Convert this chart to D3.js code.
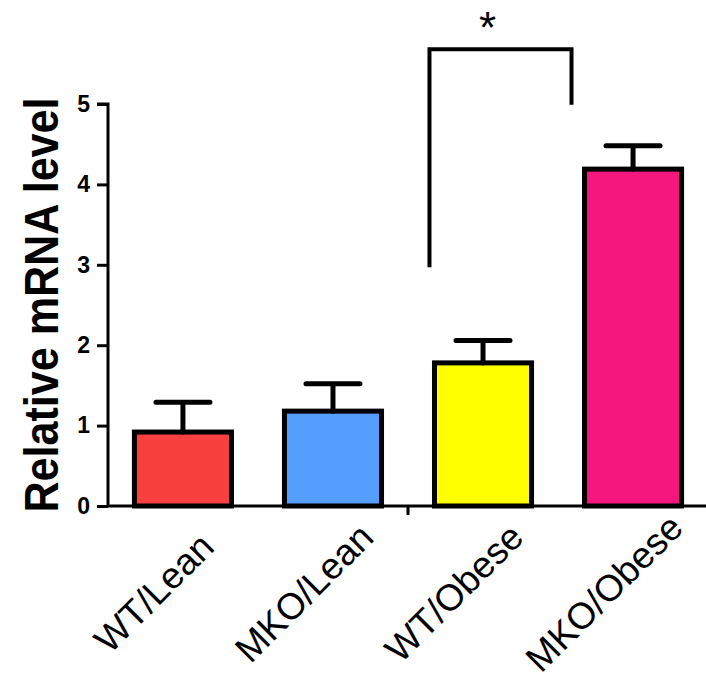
<!DOCTYPE html>
<html>
<head>
<meta charset="utf-8">
<script src="https://cdn.jsdelivr.net/npm/d3@7"></script>
<style>
  body { margin: 0; background: #fff; }
  svg { display: block; font-family: "Liberation Sans", Arial, sans-serif; }
</style>
</head>
<body>
<svg id="chart"></svg>
<script>
const groups = ["WT/Lean", "MKO/Lean", "WT/Obese", "MKO/Obese"];
const means = [0.92, 1.18, 1.78, 4.19];
const sems = [0.37, 0.34, 0.28, 0.29];
const colors = ["#F84040", "#559EFD", "#FFFF00", "#F5167E"];
const yTicks = [0, 1, 2, 3, 4, 5];

const width = 706;
const height = 680;
const margins = { top: 104, right: -2, bottom: 174, left: 108 };

const svg = d3.select("#chart")
  .attr("width", width)
  .attr("height", height);

const x = d3.scaleBand()
  .domain(groups)
  .range([margins.left, width - margins.right])
  .paddingInner(0.353)
  .paddingOuter(0.176);

const y = d3.scaleLinear()
  .domain([0, 5])
  .range([height - margins.bottom, margins.top]);

//* y axis
const yAxis = svg.append("g")
  .attr("transform", `translate(${margins.left},0)`)
  .call(d3.axisLeft(y).tickValues(yTicks).tickSize(11).tickPadding(7).tickFormat(d3.format("d")));
yAxis.select(".domain").attr("stroke-width", 3).attr("d", `M-11,${y(5)}H0V${y(0)}`);
yAxis.selectAll(".tick line").attr("stroke-width", 3);
yAxis.selectAll(".tick text")
  .attr("font-size", 23)
  .attr("font-weight", "bold")
  .attr("fill", "#000");

//* x axis line with the middle tick
const x0 = margins.left, x1 = width - margins.right;
svg.append("path")
  .attr("d", `M${x0},${y(0)}H${x1}M${(x0 + x1) / 2},${y(0)}v9`)
  .attr("stroke", "#000")
  .attr("stroke-width", 3)
  .attr("fill", "none");

//* bars
svg.selectAll(".bar")
  .data(groups)
  .join("rect")
  .attr("class", "bar")
  .attr("x", d => x(d))
  .attr("width", x.bandwidth())
  .attr("y", (d, i) => y(means[i]))
  .attr("height", (d, i) => y(0) - y(means[i]))
  .attr("fill", (d, i) => colors[i])
  .attr("stroke", "#000")
  .attr("stroke-width", 5);

//* error bars (upper only)
const capHalf = 27;
svg.selectAll(".err")
  .data(groups)
  .join("path")
  .attr("class", "err")
  .attr("d", (d, i) => {
    const cx = x(d) + x.bandwidth() / 2;
    return `M${cx},${y(means[i])}V${y(means[i] + sems[i])}M${cx - capHalf},${y(means[i] + sems[i])}H${cx + capHalf}`;
  })
  .attr("stroke", "#000")
  .attr("stroke-width", 5)
  .attr("stroke-linecap", "round")
  .attr("fill", "none");

//* significance bracket
const bracket = { left: 2.97, right: 4.99, top: 5.68 };
const bl = x("WT/Obese") - 5;
const br = x("MKO/Obese") - 13;
svg.append("path")
  .attr("d", `M${bl},${y(bracket.left)}V${y(bracket.top)}H${br}V${y(bracket.right)}`)
  .attr("stroke", "#000")
  .attr("stroke-width", 4)
  .attr("fill", "none");
svg.append("text")
  .attr("x", (bl + br) / 2 - 13)
  .attr("y", 43)
  .attr("text-anchor", "middle")
  .attr("font-size", 44)
  .text("*");

//* x labels
svg.selectAll(".xlabel")
  .data(groups)
  .join("text")
  .attr("class", "xlabel")
  .attr("text-anchor", "middle")
  .attr("font-size", 37)
  .attr("transform", d => `translate(${x(d) + x.bandwidth() / 2 - 20},${y(0) + 96}) rotate(-45)`)
  .text(d => d);

//* y title
svg.append("text")
  .attr("transform", `translate(58,${(y(0) + y(5)) / 2}) rotate(-90)`)
  .attr("text-anchor", "middle")
  .attr("font-size", 48)
  .attr("font-weight", "bold")
  .attr("textLength", 415)
  .attr("lengthAdjust", "spacingAndGlyphs")
  .text("Relative mRNA level");
</script>
</body>
</html>
